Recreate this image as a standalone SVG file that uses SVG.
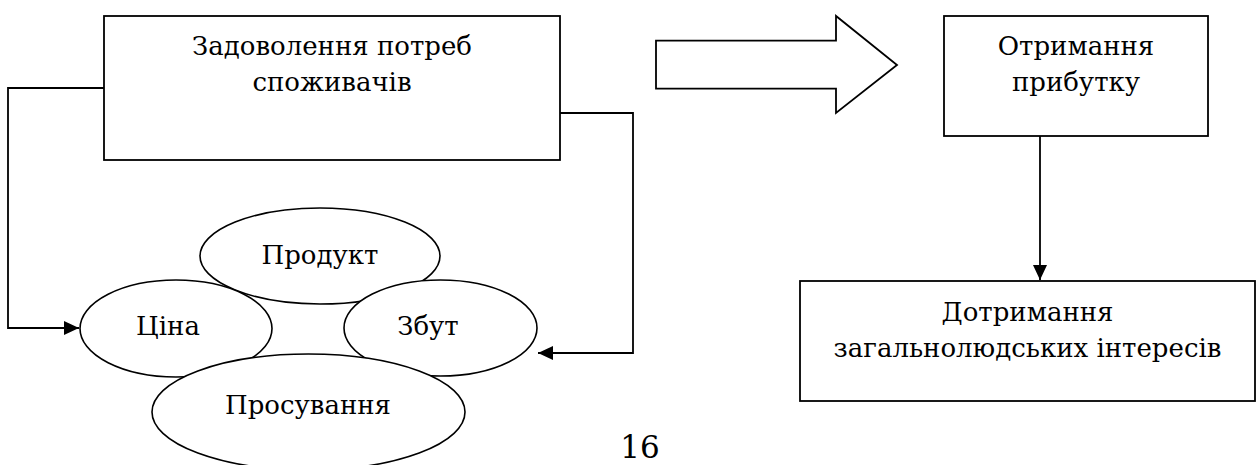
<svg xmlns="http://www.w3.org/2000/svg" width="1256" height="465" viewBox="0 0 1256 465">
<defs>
<style>
.box{fill:#fff;stroke:#000;stroke-width:1.8}
.ell{fill:#fff;stroke:#000;stroke-width:1.6}
.ln{fill:none;stroke:#000;stroke-width:1.8}
text{font-family:'DejaVu Serif','Liberation Serif',serif;fill:#000;text-anchor:middle}
.t{font-size:26px}
.pg{font-size:31px}
</style>
<marker id="ah" viewBox="0 0 15 14" refX="15" refY="7" markerWidth="15" markerHeight="14" markerUnits="userSpaceOnUse" orient="auto">
<path d="M0,0 L15,7 L0,14 Z" fill="#000"/>
</marker>
</defs>
<rect width="1256" height="465" fill="#fff"/>
<g id="connectors">
<polyline class="ln" points="104,88 8,88 8,328 79,328" marker-end="url(#ah)"/>
<polyline class="ln" points="560,113 633,113 633,353 538,353" marker-end="url(#ah)"/>
<line class="ln" x1="1040" y1="136" x2="1040" y2="280" marker-end="url(#ah)"/>
<polygon class="ln" points="656,40.7 836,40.7 836,16 897,65 836,113 836,88.7 656,88.7"/>
</g>
<g id="node-satisfaction">
<rect class="box" x="104" y="16" width="456" height="144"/>
<text class="t" x="332" y="55">Задоволення потреб</text>
<text class="t" x="332" y="91">споживачів</text>
</g>
<g id="node-profit">
<rect class="box" x="944" y="16" width="264" height="120"/>
<text class="t" x="1076" y="55">Отримання</text>
<text class="t" x="1076" y="91">прибутку</text>
</g>
<g id="node-interests">
<rect class="box" x="800" y="281" width="455" height="120"/>
<text class="t" x="1027.5" y="321">Дотримання</text>
<text class="t" x="1027.5" y="357">загальнолюдських інтересів</text>
</g>
<g id="node-product">
<ellipse class="ell" cx="320" cy="256" rx="120" ry="48"/>
<text class="t" x="320" y="264">Продукт</text>
</g>
<g id="node-price">
<ellipse class="ell" cx="176" cy="328.5" rx="96" ry="48.5"/>
<text class="t" x="168" y="335">Ціна</text>
</g>
<g id="node-place">
<ellipse class="ell" cx="440.5" cy="328" rx="96.5" ry="48"/>
<text class="t" x="428" y="335">Збут</text>
</g>
<g id="node-promotion">
<ellipse class="ell" cx="308.5" cy="412" rx="156.5" ry="58"/>
<text class="t" x="308" y="414">Просування</text>
</g>
<text class="pg" x="640" y="458">16</text>
</svg>
